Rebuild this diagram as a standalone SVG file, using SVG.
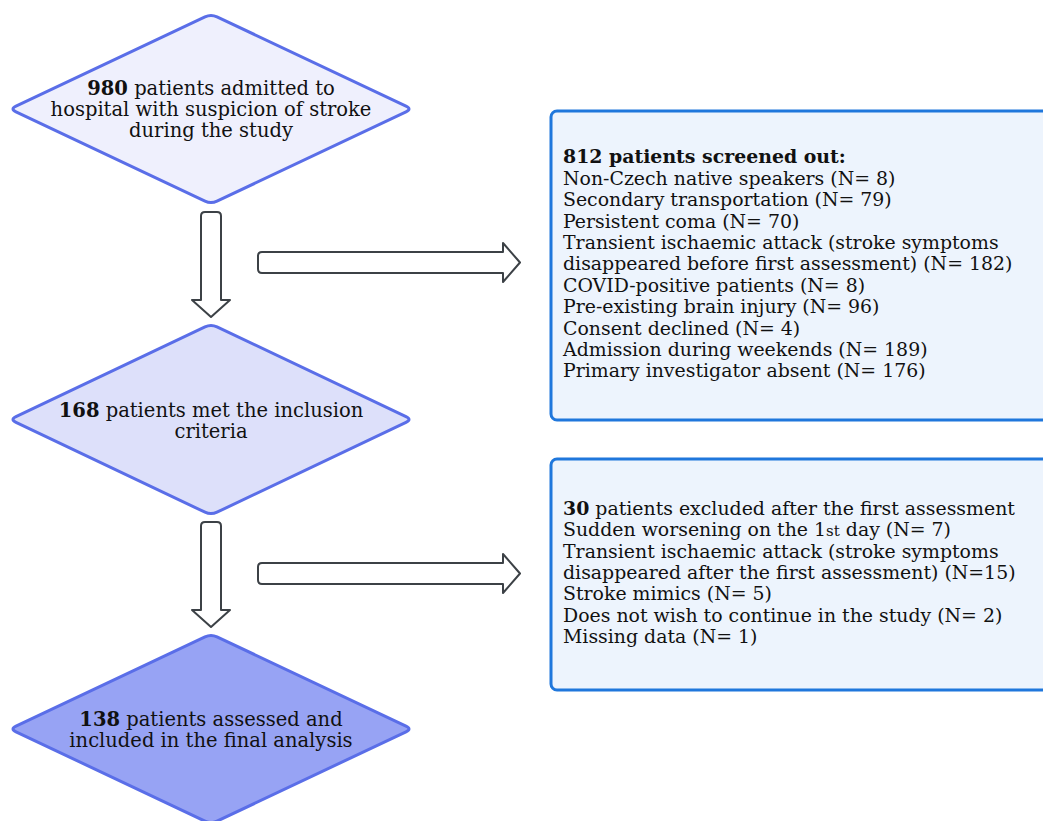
<svg xmlns="http://www.w3.org/2000/svg" width="1043" height="821" viewBox="0 0 1043 821">
<style>
.dia{stroke:#5a6ee8;stroke-width:3;stroke-linejoin:round}
.box{fill:#edf4fd;stroke:#1f77dc;stroke-width:3}
.arr{fill:#ffffff;stroke:#3c4146;stroke-width:2;stroke-linejoin:round}
text{font-family:"DejaVu Serif","Liberation Serif",serif;font-size:19.5px;fill:#111}
.t{font-size:18.9px}
.c{text-anchor:middle}
.b{font-weight:bold}
</style>
<rect width="1043" height="821" fill="#ffffff"/>
<g id="connectors">
<path class="arr" d="M201,216 Q201,212 205,212 H217 Q221,212 221,216 V300 H230 L211,317 L192,300 H201 Z"/>
<path class="arr" d="M201,526 Q201,522 205,522 H217 Q221,522 221,526 V610 H230 L211,627 L192,610 H201 Z"/>
<path class="arr" d="M262,252 H503 V243 L520,262.5 L503,282 V273 H262 Q258,273 258,269 V256 Q258,252 262,252 Z"/>
<path class="arr" d="M262,563 H503 V554 L520,573.5 L503,593 V584 H262 Q258,584 258,580 V567 Q258,563 262,563 Z"/>
</g>
<g id="node-admitted">
<path class="dia" fill="#eff0fd" d="M205,16.8 Q211,14 217,16.8 L406,106.2 Q412,109 406,111.8 L217,201.2 Q211,204 205,201.2 L16,111.8 Q10,109 16,106.2 Z"/>
<text class="c" x="211" y="95"><tspan class="b">980</tspan> patients admitted to</text>
<text class="c" x="211" y="116">hospital with suspicion of stroke</text>
<text class="c" x="211" y="137">during the study</text>
</g>
<g id="node-inclusion">
<path class="dia" fill="#dde0fa" d="M205,326.8 Q211,324 217,326.8 L406,416.7 Q412,419.5 406,422.3 L217,512.2 Q211,515 205,512.2 L16,422.3 Q10,419.5 16,416.7 Z"/>
<text class="c" x="211" y="417"><tspan class="b">168</tspan> patients met the inclusion</text>
<text class="c" x="211" y="438">criteria</text>
</g>
<g id="node-final">
<path class="dia" fill="#97a3f4" d="M205,636.8 Q211,634 217,636.8 L406,726.2 Q412,729 406,731.8 L217,821.2 Q211,824 205,821.2 L16,731.8 Q10,729 16,726.2 Z"/>
<text class="c" x="211" y="726"><tspan class="b">138</tspan> patients assessed and</text>
<text class="c" x="211" y="747">included in the final analysis</text>
</g>
<g id="node-screened">
<rect class="box" x="551" y="111" width="510" height="309" rx="6"/>
<text class="t b" x="563" y="163.3">812 patients screened out:</text>
<text class="t" x="563" y="184.7">Non-Czech native speakers (N= 8)</text>
<text class="t" x="563" y="206.1">Secondary transportation (N= 79)</text>
<text class="t" x="563" y="227.5">Persistent coma (N= 70)</text>
<text class="t" x="563" y="248.9">Transient ischaemic attack (stroke symptoms</text>
<text class="t" x="563" y="270.3">disappeared before first assessment) (N= 182)</text>
<text class="t" x="563" y="291.7">COVID-positive patients (N= 8)</text>
<text class="t" x="563" y="313.1">Pre-existing brain injury (N= 96)</text>
<text class="t" x="563" y="334.5">Consent declined (N= 4)</text>
<text class="t" x="563" y="355.9">Admission during weekends (N= 189)</text>
<text class="t" x="563" y="377.3">Primary investigator absent (N= 176)</text>
</g>
<g id="node-excluded">
<rect class="box" x="551" y="459" width="510" height="231" rx="6"/>
<text class="t" x="563" y="515"><tspan class="b">30</tspan> patients excluded after the first assessment</text>
<text class="t" x="563" y="536.3">Sudden worsening on the 1<tspan font-size="15px">st</tspan> day (N= 7)</text>
<text class="t" x="563" y="557.6">Transient ischaemic attack (stroke symptoms</text>
<text class="t" x="563" y="578.9">disappeared after the first assessment) (N=15)</text>
<text class="t" x="563" y="600.2">Stroke mimics (N= 5)</text>
<text class="t" x="563" y="621.5">Does not wish to continue in the study (N= 2)</text>
<text class="t" x="563" y="642.8">Missing data (N= 1)</text>
</g>
</svg>
